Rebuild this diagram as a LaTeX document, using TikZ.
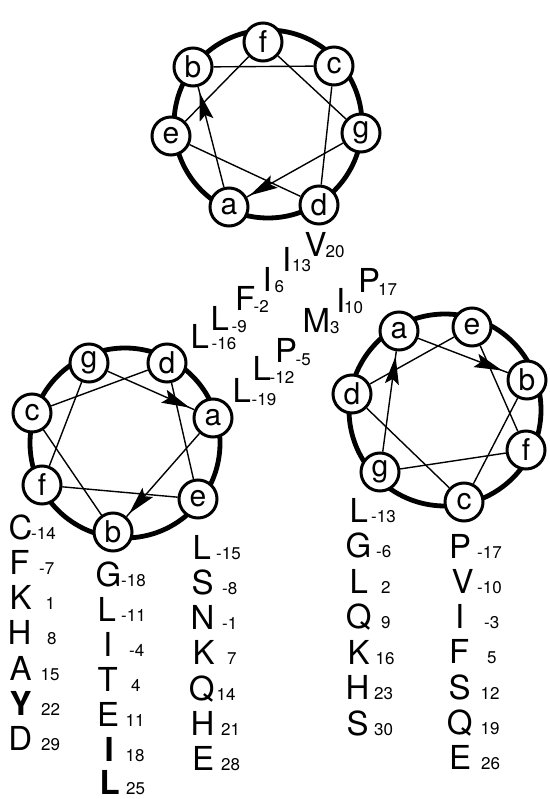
\documentclass[tikz,border=0pt]{standalone}
\usepackage{fontspec}
\setmainfont{TeX Gyre Heros}
\usetikzlibrary{arrows.meta,decorations.markings}
\tikzset{
 res/.style={circle, draw, line width=3pt, fill=white, minimum size=38pt, inner sep=0pt, font=\fontsize{30}{30}\selectfont},
 ring/.style={line width=4.8pt},
 chord/.style={line width=1.4pt},
 arr/.style={postaction={decorate}, decoration={markings, mark=at position -#1 with {\arrow{Stealth[length=28pt,width=14pt,inset=5pt]}}}},
 bigtxt/.style={anchor=base west, inner sep=0pt, font=\fontsize{33}{33}\selectfont},
 subtxt/.style={anchor=base west, inner sep=0pt, font=\fontsize{17}{17}\selectfont},
}
\newcommand\resid[7]{\node[bigtxt] (#1) at (#2,#3) {#4}; \node[subtxt] (#1n) at (#5,#6) {#7};}
\begin{document}
\begin{tikzpicture}[x=1pt,y=-1pt]
\fill[white] (0,0) rectangle (549,799);
\useasboundingbox (0,0) rectangle (549,799);
% ---------- top wheel
\draw[ring] (268,124) circle[radius=94];
\node[res] (tf) at (263,42) {f};
\node[res] (tc) at (334,66) {c};
\node[res] (tg) at (361,133) {g};
\node[res] (td) at (319,205) {d};
\node[res] (ta) at (229,207) {a};
\node[res] (te) at (171,136) {e};
\node[res] (tb) at (193,67) {b};
\draw[chord,arr=6pt] (ta) -- (tb);
\draw[chord] (tb) -- (tc);
\draw[chord] (tc) -- (td);
\draw[chord] (td) -- (te);
\draw[chord] (te) -- (tf);
\draw[chord] (tf) -- (tg);
\draw[chord,arr=3pt] (tg) -- (ta);
% ---------- left wheel
\draw[ring] (125,443) circle[radius=95];
\node[res] (lg) at (89,363) {g};
\node[res] (ld) at (167,363) {d};
\node[res] (lc) at (32,413) {c};
\node[res] (la) at (213,418) {a};
\node[res] (lf) at (42,485) {f};
\node[res] (le) at (198,499) {e};
\node[res] (lb) at (113,532) {b};
\draw[chord,arr=4pt] (la) -- (lb);
\draw[chord] (lb) -- (lc);
\draw[chord] (lc) -- (ld);
\draw[chord] (ld) -- (le);
\draw[chord] (le) -- (lf);
\draw[chord] (lf) -- (lg);
\draw[chord,arr=5pt] (lg) -- (la);
% ---------- right wheel
\draw[ring] (445,410) circle[radius=96];
\node[res] (ra) at (399,331) {a};
\node[res] (re) at (472,327) {e};
\node[res] (rb) at (527,380) {b};
\node[res] (rd) at (352,394) {d};
\node[res] (rf) at (526,450) {f};
\node[res] (rg) at (380,472) {g};
\node[res] (rc) at (464,502) {c};
\draw[chord,arr=6pt] (ra) -- (rb);
\draw[chord] (rb) -- (rc);
\draw[chord] (rc) -- (rd);
\draw[chord] (rd) -- (re);
\draw[chord] (re) -- (rf);
\draw[chord] (rf) -- (rg);
\draw[chord,arr=5pt] (rg) -- (ra);
% ---------- middle residues
\resid{mV}{304.5}{257}{V}{325.5}{258}{20}
\resid{mIa}{282}{271}{I}{292}{272}{13}
\resid{mIb}{262.5}{291}{I}{274.5}{292}{6}
\resid{mF}{235}{310}{F}{253.5}{312}{-2}
\resid{mLa}{210.5}{330}{L}{231.5}{332}{-9}
\resid{mLb}{190.5}{348}{L}{211.5}{349}{-16}
\resid{mP}{275}{362}{P}{295.5}{365}{-5}
\resid{mLc}{252.5}{380}{L}{269.5}{383}{-12}
\resid{mLd}{232.5}{402}{L}{251.5}{405}{-19}
\resid{mM}{302.5}{332}{M}{330}{333}{3}
\resid{mIc}{336}{312}{I}{344}{313}{10}
\resid{mPb}{358}{292}{P}{378}{295}{17}
% ---------- column 1
\resid{aC}{8.5}{539}{C}{31}{539}{-14}
\resid{aF}{9.2}{574.3}{F}{39}{574.3}{-7}
\resid{aK}{9.5}{609.6}{K}{45.3}{609.6}{1}
\resid{aH}{7.5}{644.9}{H}{47}{644.9}{8}
\resid{aA}{9.5}{680.2}{A}{40.5}{680.2}{15}
\resid{aY}{9.5}{715.5}{\bfseries Y}{41}{715.5}{22}
\resid{aD}{8.3}{750.8}{D}{41}{750.8}{29}
% ---------- column 2
\resid{bG}{95.5}{586}{G}{121}{586}{-18}
\resid{bL}{97.5}{621}{L}{121}{621}{-11}
\resid{bI}{103}{656}{I}{129}{656}{-4}
\resid{bT}{97.5}{691}{T}{131}{691}{4}
\resid{bE}{97}{726}{E}{125.5}{726}{11}
\resid{bIb}{104.5}{761}{\bfseries I}{125.5}{761}{18}
\resid{bLb}{99.5}{794}{\bfseries L}{126}{794}{25}
% ---------- column 3
\resid{cL}{192.5}{559}{L}{216}{559}{-15}
\resid{cS}{191.5}{594.3}{S}{222}{594.3}{-8}
\resid{cN}{190.5}{629.6}{N}{222}{629.6}{-1}
\resid{cK}{192.5}{664.9}{K}{227}{664.9}{7}
\resid{cQ}{188.7}{700.2}{Q}{216.5}{700.2}{14}
\resid{cH}{190.5}{735.5}{H}{221}{735.5}{21}
\resid{cE}{192}{770.8}{E}{221}{770.8}{28}
% ---------- column 4
\resid{dL}{349.5}{522}{L}{371}{522}{-13}
\resid{dG}{345.5}{557.5}{G}{376}{557.5}{-6}
\resid{dLb}{349.5}{593}{L}{381}{593}{2}
\resid{dQ}{345.7}{628.5}{Q}{381}{628.5}{9}
\resid{dK}{347.5}{664}{K}{375.5}{664}{16}
\resid{dH}{345.5}{699.5}{H}{374}{699.5}{23}
\resid{dS}{346.5}{735}{S}{374}{735}{30}
% ---------- column 5
\resid{eP}{449}{558}{P}{477}{558}{-17}
\resid{eV}{451.5}{593.3}{V}{477}{593.3}{-10}
\resid{eI}{455}{628.6}{I}{484}{628.6}{-3}
\resid{eF}{449}{663.9}{F}{487}{663.9}{5}
\resid{eS}{448.5}{699.2}{S}{480.5}{699.2}{12}
\resid{eQ}{446.7}{734.5}{Q}{480.5}{734.5}{19}
\resid{eE}{449}{769.8}{E}{481}{769.8}{26}
\end{tikzpicture}
\end{document}
